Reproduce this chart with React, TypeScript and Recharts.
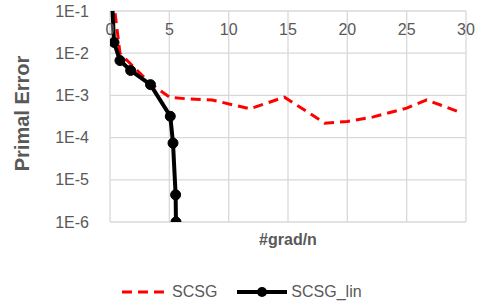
import { CartesianGrid, Legend, Line, LineChart, XAxis, YAxis } from "recharts";

// grad/n positions and primal error
const scsgX = [0.1, 0.84, 3.4, 5.05, 6.7, 8.6, 11.8, 14.7, 18.1, 20.0, 22.2, 25.0, 26.7, 29.7];
const scsgY = [0.5, 0.01, 0.0019, 0.0009, 0.00082, 0.00078, 0.00048, 0.00091, 0.00022, 0.00024, 0.00031, 0.0005, 0.00078, 0.00038];

const linX = [0.1, 0.34, 0.84, 1.74, 3.41, 5.08, 5.31, 5.53, 5.56];
const linY = [0.5, 0.018, 0.0067, 0.0039, 0.0018, 0.00032, 0.000074, 0.0000044, 0.000001];

const xTicks = [0, 5, 10, 15, 20, 25, 30];
const yTicks = [1e-6, 1e-5, 1e-4, 1e-3, 1e-2, 1e-1];

const scsgData = scsgX.map((x, i) => ({ x, y: scsgY[i] }));
const linData = linX.map((x, i) => ({ x, y: linY[i] }));

const FONT = "'Liberation Sans', Arial, sans-serif";
const GRAY = "#595959";

const fmtExp = (v: number) => `1E${Math.round(Math.log10(v))}`;

const LegendContent = () => (
  <div style={{ height: 30, display: "flex", alignItems: "center", fontFamily: FONT, fontSize: 16, color: GRAY }}>
    <svg width={50} height={10} style={{ marginLeft: 122 }}>
      <line x1={0} y1={5} x2={47} y2={5} stroke="#ff0000" strokeWidth={3} strokeDasharray="10 6" />
    </svg>
    <span>SCSG</span>
    <svg width={52} height={12} style={{ marginLeft: 20 }}>
      <line x1={0} y1={6} x2={50} y2={6} stroke="#000" strokeWidth={4} />
      <circle cx={25} cy={6} r={5} fill="#000" />
    </svg>
    <span style={{ marginLeft: 2 }}>SCSG_lin</span>
  </div>
);

export default function App() {
  return (
    <div style={{ position: "absolute", left: 0, top: 0 }}>
      <LineChart width={477} height={307} margin={{ top: 11, right: 11, left: 0, bottom: 0 }}>
        <CartesianGrid stroke="#d9d9d9" strokeWidth={1.3} />
        <XAxis
          dataKey="x"
          type="number"
          orientation="top"
          mirror
          domain={[0, 30]}
          ticks={xTicks}
          tickSize={0}
          tickMargin={13}
          axisLine={false}
          tickLine={false}
          tick={{ fill: GRAY, fontSize: 16, fontFamily: FONT }}
          allowDataOverflow
        />
        <XAxis
          xAxisId="lab"
          type="number"
          domain={[0, 30]}
          height={55}
          tick={false}
          axisLine={false}
          tickLine={false}
          label={{
            value: "#grad/n",
            position: "insideTop",
            offset: 12,
            fill: GRAY,
            fontSize: 16,
            fontWeight: "bold",
            fontFamily: FONT,
          }}
        />
        <YAxis
          dataKey="y"
          type="number"
          scale="log"
          domain={[1e-6, 1e-1]}
          ticks={yTicks}
          tickFormatter={fmtExp}
          width={110}
          axisLine={false}
          tickLine={false}
          tickMargin={15}
          tick={{ fill: GRAY, fontSize: 16, fontFamily: FONT }}
          allowDataOverflow
          label={({ viewBox }: any) => {
            const cx = 22;
            const cy = viewBox.y + viewBox.height / 2 - 3;
            return (
              <text
                x={cx}
                y={cy}
                transform={`rotate(-90 ${cx} ${cy})`}
                textAnchor="middle"
                dominantBaseline="central"
                fill={GRAY}
                fontSize={20}
                fontWeight="bold"
                fontFamily={FONT}
              >
                Primal Error
              </text>
            );
          }}
        />
        <Legend verticalAlign="bottom" height={30} content={<LegendContent />} />
        <Line
          data={scsgData}
          dataKey="y"
          name="SCSG"
          stroke="#ff0000"
          strokeWidth={3}
          strokeDasharray="10 6"
          dot={false}
          isAnimationActive={false}
        />
        <Line
          data={linData}
          dataKey="y"
          name="SCSG_lin"
          stroke="#000000"
          strokeWidth={4}
          dot={{ r: 5, fill: "#000", stroke: "#000", strokeWidth: 1 }}
          isAnimationActive={false}
        />
      </LineChart>
    </div>
  );
}
